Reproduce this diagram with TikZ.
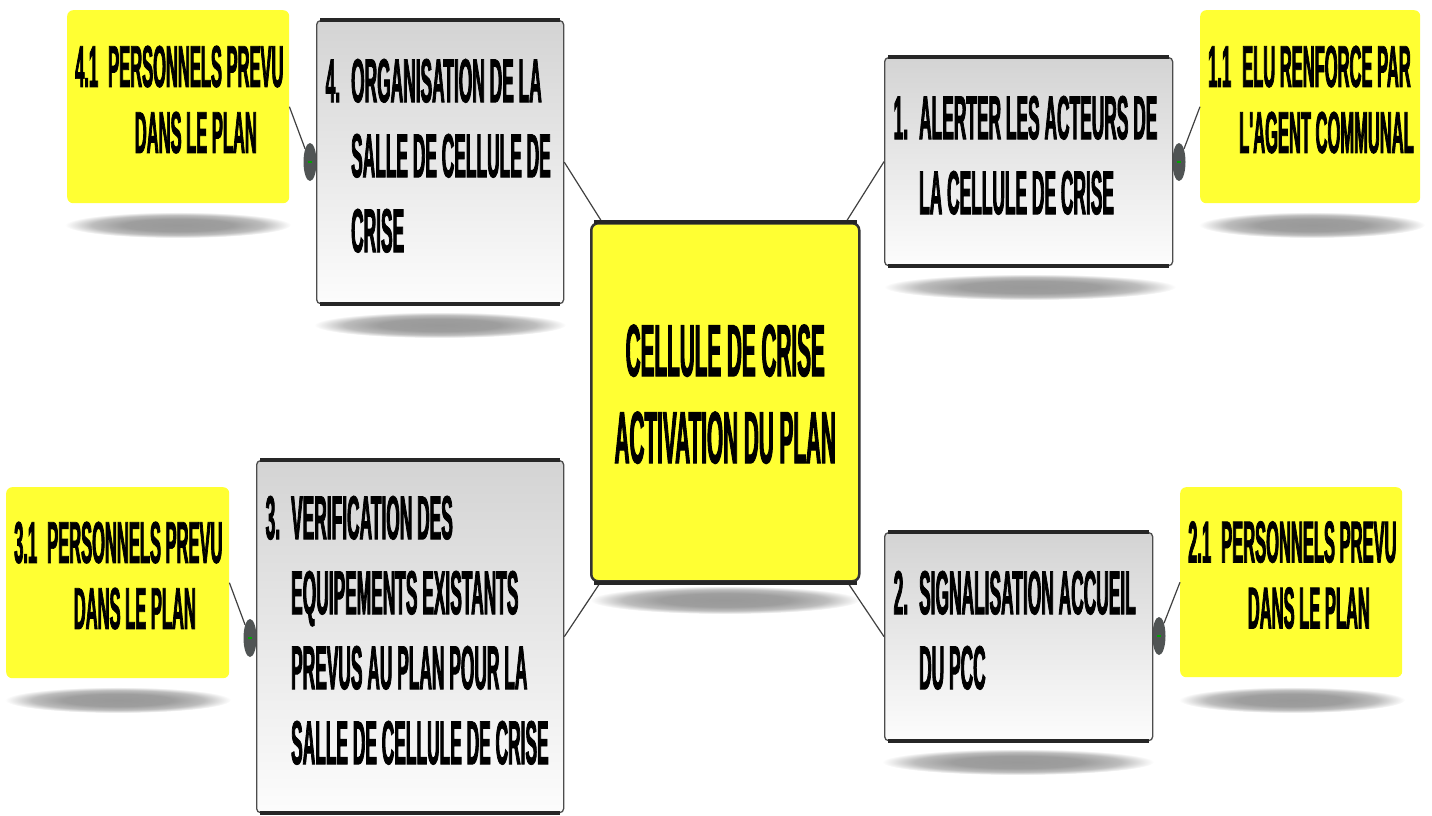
\documentclass[tikz,border=0pt]{standalone}
\usepackage{fontspec}
\usetikzlibrary{shapes.geometric}
\newfontfamily\cond{Liberation Sans}[UprightFont=* Bold, FakeStretch=0.28, FakeBold=1.2, Ligatures=TeXOff]
\definecolor{ylw}{RGB}{255,255,51}
\definecolor{knobgray}{RGB}{80,84,84}
\pgfdeclareradialshading{softshadow}{\pgfpoint{0bp}{0bp}}{color(0bp)=(black!40); color(12bp)=(black!38); color(19bp)=(black!26); color(25bp)=(white); color(50bp)=(white)}
\newcommand{\tightsp}{\spaceskip=0pt\xspaceskip=0pt\relax}
\tikzset{
  graybox/.style={draw=black!70, line width=1.3pt, rounded corners=4pt,
    top color=black!17, bottom color=black!1, anchor=north west,
    inner xsep=9pt, inner ysep=0pt, align=left,
    font=\cond\fontsize{62}{75}\selectfont},
  ybox/.style={fill=ylw, rounded corners=6pt, anchor=north west,
    inner xsep=8pt, inner ysep=0pt, align=left,
    font=\cond\fontsize{59}{66}\selectfont},
  cbox/.style={fill=ylw, draw=black!80, line width=2.5pt, rounded corners=7pt,
    anchor=north west, inner sep=0pt, align=center,
    font=\cond\fontsize{74}{87}\selectfont},
  edge/.style={draw=black!85, line width=4pt},
  conn/.style={draw=black!75, line width=1.2pt},
  knob/.style={ellipse, fill=knobgray, minimum width=13pt, minimum height=38pt,
    inner sep=0pt,
    path picture={\draw[green!65!black, line width=1.5pt]
      ([xshift=-2pt]path picture bounding box.center) --
      ([xshift=2pt]path picture bounding box.center);}},
  shadowell/.style={shading=softshadow}
}
\begin{document}
\begin{tikzpicture}[x=1pt,y=-1pt]
\useasboundingbox (0,0) rectangle (1432,816);

% shadows
\shade[shadowell] (178,225) ellipse [x radius=113, y radius=13];
\shade[shadowell] (440,325) ellipse [x radius=126, y radius=13];
\shade[shadowell] (725,600) ellipse [x radius=135, y radius=14];
\shade[shadowell] (1030,287) ellipse [x radius=146, y radius=13];
\shade[shadowell] (1312,225) ellipse [x radius=113, y radius=13];
\shade[shadowell] (118,700) ellipse [x radius=113, y radius=13];
\shade[shadowell] (1018,762) ellipse [x radius=136, y radius=13];
\shade[shadowell] (1292,700) ellipse [x radius=113, y radius=13];

% boxes
\node[ybox, minimum width=222pt, minimum height=193pt, text width=206pt] (y41) at (67,10)
  {\tightsp\begin{tabular}{@{}l@{\hspace{10pt}}c@{}}4.1 & PERSONNELS PREVU\\ & DANS LE PLAN\end{tabular}};
\node[ybox, minimum width=220pt, minimum height=193pt, text width=204pt] (y11) at (1200,10)
  {\tightsp\begin{tabular}{@{}l@{\hspace{8pt}}c@{}}1.1 & ELU RENFORCE PAR\\ & L'AGENT COMMUNAL\end{tabular}};
\node[ybox, minimum width=223pt, minimum height=191pt, text width=207pt] (y31) at (6,487)
  {\tightsp\begin{tabular}{@{}l@{\hspace{10pt}}c@{}}3.1 & PERSONNELS PREVU\\ & DANS LE PLAN\end{tabular}};
\node[ybox, minimum width=222pt, minimum height=190pt, text width=206pt] (y21) at (1180,487)
  {\tightsp\begin{tabular}{@{}l@{\hspace{10pt}}c@{}}2.1 & PERSONNELS PREVU\\ & DANS LE PLAN\end{tabular}};

% knobs (behind gray boxes)
\node[knob] (k4) at (310,162) {};
\node[knob] (k1) at (1179,162) {};
\node[knob] (k3) at (250,638) {};
\node[knob] (k2) at (1159,636) {};

\node[graybox, minimum width=247pt, minimum height=283pt, text width=229pt] (g4) at (316,20)
  {\tightsp\begin{tabular}{@{}l@{\hspace{11pt}}l@{}}4. & ORGANISATION DE LA\\ & SALLE DE CELLULE DE\\ & CRISE\end{tabular}};
\node[graybox, minimum width=288pt, minimum height=208pt, text width=270pt] (g1) at (884,57)
  {\tightsp\begin{tabular}{@{}l@{\hspace{11pt}}l@{}}1. & ALERTER LES ACTEURS DE\\ & LA CELLULE DE CRISE\end{tabular}};
\node[graybox, minimum width=307pt, minimum height=352pt, text width=289pt] (g3) at (256,460)
  {\tightsp\begin{tabular}{@{}l@{\hspace{11pt}}l@{}}3. & VERIFICATION DES\\ & EQUIPEMENTS EXISTANTS\\ & PREVUS AU PLAN POUR LA\\ & SALLE DE CELLULE DE CRISE\end{tabular}};
\node[graybox, minimum width=268pt, minimum height=208pt, text width=250pt] (g2) at (884,532)
  {\tightsp\begin{tabular}{@{}l@{\hspace{11pt}}l@{}}2. & SIGNALISATION ACCUEIL\\ & DU PCC\end{tabular}};

% connectors
\draw[conn] (y41.east) -- (k4);
\draw[conn] (y11.west) -- (k1);
\draw[conn] (y31.east) -- (k3);
\draw[conn] (y21.west) -- (k2);

\coordinate (cnw) at (602,222);
\coordinate (cne) at (846,222);
\coordinate (csw) at (602,580);
\coordinate (cse) at (846,580);
\draw[conn] (g4.east) -- (cnw);
\draw[conn] (g1.west) -- (cne);
\draw[conn] (g3.east) -- (csw);
\draw[conn] (g2.west) -- (cse);

\node[cbox, minimum width=268pt, minimum height=358pt] (c) at (590,222)
  {\begin{tabular}{@{}c@{}}CELLULE DE CRISE\\ACTIVATION DU PLAN\end{tabular}};

% thick top/bottom edges
\foreach \n in {g4,g1,g3,g2,c}{
  \draw[edge] ([xshift=4pt]\n.north west) -- ([xshift=-4pt]\n.north east);
  \draw[edge] ([xshift=4pt]\n.south west) -- ([xshift=-4pt]\n.south east);
}
\end{tikzpicture}
\end{document}
